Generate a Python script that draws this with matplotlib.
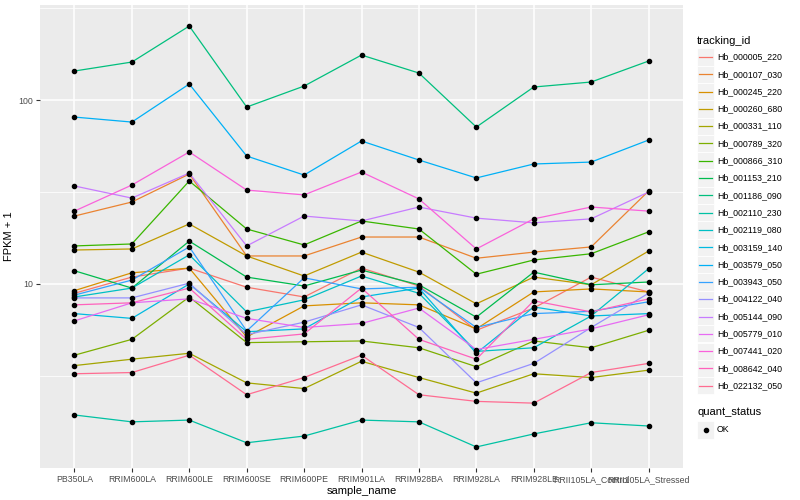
import numpy as np
import matplotlib.pyplot as plt
from matplotlib.patches import Rectangle
from matplotlib.lines import Line2D
from matplotlib.ticker import FixedLocator, NullFormatter

plt.rcParams['font.family'] = ['Liberation Sans', 'DejaVu Sans']

samples = ["PB350LA", "RRIM600LA", "RRIM600LE", "RRIM600SE", "RRIM600PE",
           "RRIM901LA", "RRIM928BA", "RRIM928LA", "RRIM928LE",
           "RRII105LA_Control", "RRII105LA_Stressed"]

tracking_ids = ["Hb_000005_220", "Hb_000107_030", "Hb_000245_220", "Hb_000260_680",
                "Hb_000331_110", "Hb_000789_320", "Hb_000866_310", "Hb_001153_210",
                "Hb_001186_090", "Hb_002110_230", "Hb_002119_080", "Hb_003159_140",
                "Hb_003579_050", "Hb_003943_050", "Hb_004122_040", "Hb_005144_090",
                "Hb_005779_010", "Hb_007441_020", "Hb_008642_040", "Hb_022132_050"]

# paleta padrao do ggplot (hue_pal) para 20 niveis
cores = ["#F8766D", "#EA8331", "#D89000", "#C09B00", "#A3A500", "#7CAE00", "#39B600",
         "#00BB4E", "#00BF7D", "#00C1A3", "#00BFC4", "#00BAE0", "#00B0F6", "#35A2FF",
         "#9590FF", "#C77CFF", "#E76BF3", "#FA62DB", "#FF62BC", "#FF6C91"]

# FPKM + 1 por gene, na ordem das amostras
hb_000005_220 = [8.9, 10.9, 12.2, 9.6, 8.5, 12.2, 9.75, 5.6, 7.4, 10.9, 9.05]
hb_000107_030 = [23.4, 27.9, 39.6, 14.2, 14.2, 18.0, 18.0, 13.8, 14.9, 15.9, 32.0]
hb_000245_220 = [9.2, 11.5, 12.2, 5.15, 7.6, 7.9, 7.7, 5.7, 9.05, 9.4, 9.05]
hb_000260_680 = [15.3, 15.5, 21.2, 14.2, 11.05, 14.9, 11.6, 7.8, 10.9, 9.9, 15.1]
hb_000331_110 = [3.6, 3.9, 4.2, 2.9, 2.7, 3.8, 3.1, 2.55, 3.25, 3.1, 3.4]
hb_000789_320 = [4.1, 5.0, 8.5, 4.8, 4.85, 4.9, 4.5, 3.55, 4.9, 4.5, 5.6]
hb_000866_310 = [16.1, 16.5, 36.3, 19.9, 16.3, 22.0, 19.9, 11.3, 13.5, 14.6, 19.2]
hb_001153_210 = [11.8, 9.5, 17.1, 10.9, 9.75, 11.9, 9.9, 6.6, 11.6, 9.9, 10.25]
hb_001186_090 = [143.8, 160.9, 252.5, 91.6, 119.1, 175.6, 140.2, 71.3, 117.7, 125.3, 162.9]
hb_002110_230 = [1.94, 1.78, 1.82, 1.37, 1.49, 1.82, 1.78, 1.30, 1.53, 1.76, 1.69]
hb_002119_080 = [8.5, 9.5, 14.4, 7.05, 8.2, 11.05, 8.9, 4.3, 4.5, 6.7, 12.1]
hb_003159_140 = [6.9, 6.5, 10.0, 5.5, 5.7, 8.5, 9.5, 4.2, 7.5, 6.7, 6.9]
hb_003579_050 = [80.8, 75.9, 122.2, 49.6, 39.1, 59.9, 47.2, 37.7, 44.9, 46.0, 60.6]
hb_003943_050 = [8.7, 10.5, 15.9, 5.55, 10.8, 9.4, 9.6, 5.8, 6.9, 7.1, 8.0]
hb_004122_040 = [8.4, 8.4, 10.1, 5.3, 6.2, 7.7, 5.8, 2.9, 3.7, 5.8, 8.9]
hb_005144_090 = [34.1, 29.3, 40.1, 16.1, 23.4, 22.0, 26.2, 22.8, 21.5, 22.6, 31.6]
hb_005779_010 = [6.3, 7.9, 8.3, 6.5, 5.8, 6.1, 7.4, 4.4, 5.0, 5.7, 6.8]
hb_007441_020 = [24.9, 34.5, 52.2, 32.4, 30.5, 40.6, 29.0, 15.5, 22.6, 26.2, 24.9]
hb_008642_040 = [7.7, 7.9, 9.5, 5.0, 5.35, 9.5, 5.0, 3.9, 8.1, 7.05, 8.3]
hb_022132_050 = [3.25, 3.3, 4.1, 2.5, 3.1, 4.1, 2.5, 2.3, 2.25, 3.3, 3.7]

series = [hb_000005_220, hb_000107_030, hb_000245_220, hb_000260_680, hb_000331_110,
          hb_000789_320, hb_000866_310, hb_001153_210, hb_001186_090, hb_002110_230,
          hb_002119_080, hb_003159_140, hb_003579_050, hb_003943_050, hb_004122_040,
          hb_005144_090, hb_005779_010, hb_007441_020, hb_008642_040, hb_022132_050]

W, H = 800, 500
fig = plt.figure(figsize=(W / 100, H / 100), dpi=100)
fig.patch.set_facecolor("white")
ax = fig.add_axes([40 / W, 32 / H, 643 / W, 463 / H])
ax.set_facecolor("#EBEBEB")
for s in ax.spines.values():
    s.set_visible(False)

x = np.arange(1, len(samples) + 1)
for vals, cor in zip(series, cores):
    ax.plot(x, vals, color=cor, lw=0.9, zorder=3)
for vals in series:
    ax.plot(x, vals, "o", color="black", ms=3, zorder=4)

# escala log com expansao de 5% (como o ggplot)
ax.set_yscale("log")
todos = np.log10(np.concatenate([np.array(v) for v in series]))
lo, hi = todos.min(), todos.max()
pad = 0.05 * (hi - lo)
ax.set_ylim(10 ** (lo - pad), 10 ** (hi + pad))
ax.set_xlim(0.4, len(samples) + 0.6)

ax.yaxis.set_major_locator(FixedLocator([10, 100]))
ax.yaxis.set_minor_locator(FixedLocator([10 ** 0.5, 10 ** 1.5, 10 ** 2.5]))
ax.yaxis.set_minor_formatter(NullFormatter())
ax.set_yticklabels(["10", "100"])
ax.set_xticks(x)
ax.set_xticklabels(samples)

ax.set_axisbelow(True)
ax.grid(which="major", color="white", lw=1.1)
ax.grid(which="minor", axis="y", color="white", lw=0.55)
ax.tick_params(which="major", length=3, width=0.8, color="#333333",
               labelsize=6.3, labelcolor="#4D4D4D", pad=2)
ax.tick_params(which="minor", length=0)

ax.set_xlabel("sample_name", fontsize=8, labelpad=1.5)
ax.set_ylabel("FPKM + 1", fontsize=8, labelpad=3)


def fy(y):
    return 1 - y / H


# legenda tracking_id
fig.text(697 / W, fy(41), "tracking_id", fontsize=8, va="center")
for i, (tid, cor) in enumerate(zip(tracking_ids, cores)):
    yc = 57 + i * 17.3
    fig.add_artist(Rectangle((697 / W, fy(yc + 8.6)), 17 / W, 17.2 / H,
                             transform=fig.transFigure, facecolor="#F2F2F2",
                             edgecolor="white", lw=0.6))
    fig.add_artist(Line2D([699 / W, 712 / W], [fy(yc), fy(yc)], color=cor, lw=0.9,
                          transform=fig.transFigure))
    fig.text(717 / W, fy(yc), tid, fontsize=6.3, va="center")

# legenda quant_status
fig.text(697 / W, fy(412), "quant_status", fontsize=8, va="center")
fig.add_artist(Rectangle((697 / W, fy(430 + 8.6)), 17 / W, 17.2 / H,
                         transform=fig.transFigure, facecolor="#F2F2F2",
                         edgecolor="white", lw=0.6))
fig.add_artist(Line2D([705.5 / W], [fy(430)], marker="o", ms=3, color="black",
                      transform=fig.transFigure))
fig.text(717 / W, fy(430), "OK", fontsize=6.3, va="center")

fig.savefig("out.png", dpi=100)
